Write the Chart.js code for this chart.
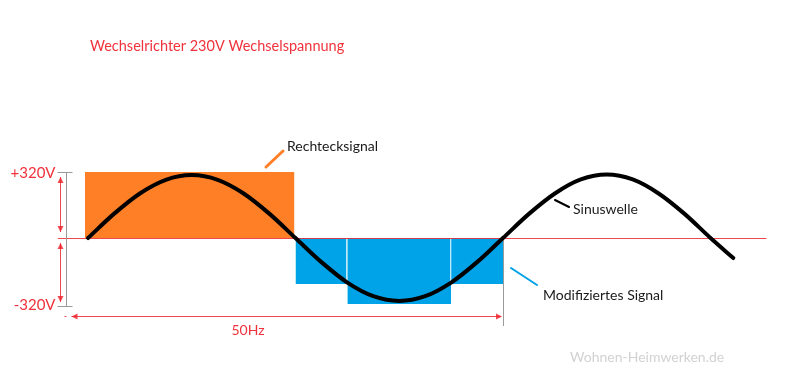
<!DOCTYPE html>
<html>
<head>
<meta charset="utf-8">
<script src="https://cdn.jsdelivr.net/npm/chart.js@4/dist/chart.umd.min.js"></script>
<style>
  html, body { margin: 0; padding: 0; background: #ffffff; }
  #wrap { width: 800px; height: 383px; position: relative; }
</style>
</head>
<body>
<div id="wrap"><canvas id="c"></canvas></div>
<script>
// ---- data ----
const titleText = 'Wechselrichter 230V Wechselspannung';
const sineTimesMs = [0, 1.25, 2.5, 3.75, 5, 6.25, 7.5, 8.75, 10, 11.25, 12.5, 13.75, 15, 16.25, 17.5, 18.75, 20, 21.25, 22.5, 23.75, 25, 26.25, 27.5, 28.75, 30, 31.1];
const sineVolts   = [0, 117, 216, 282, 305, 282, 216, 117, 0, -117, -216, -282, -305, -282, -216, -117, 0, 117, 216, 284, 308, 284, 216, 117, 0, -97];
const squareEdgesMs = [-0.15, 9.95];
const squareLevel = 320;
const modEdgesMs = [10, 12.5, 17.5, 20];
const modLevels = [-223, -320, -223];
const voltTickValues = [320, -320];
const voltTickLabels = ['+320V', '-320V'];
const periodMs = 20;
const periodLabel = '50Hz';
const seriesNames = ['Sinuswelle', 'Rechtecksignal', 'Modifiziertes Signal'];
const watermark = 'Wohnen-Heimwerken.de';

// ---- build datasets ----
const RED = 'rgba(237,40,48,0.85)';
const ORANGE = '#ff7f27';
const BLUE = '#00a2e8';
const FONT = 'Lato, "Open Sans", sans-serif';

const sinePts = sineTimesMs.map((t, i) => ({ x: t, y: sineVolts[i] }));
const squarePts = squareEdgesMs.map(t => ({ x: t, y: squareLevel }));
const datasets = [
  { label: seriesNames[0], data: sinePts, borderColor: '#000', borderWidth: 4,
    cubicInterpolationMode: 'monotone', pointRadius: 0, fill: false, borderCapStyle: 'round' },
  { label: seriesNames[1], data: squarePts, borderWidth: 0, borderColor: 'rgba(0,0,0,0)',
    backgroundColor: ORANGE, pointRadius: 0, fill: 'origin' }
];
for (let i = 0; i < modLevels.length; i++) {
  datasets.push({ label: seriesNames[2], data: [{ x: modEdgesMs[i], y: modLevels[i] }, { x: modEdgesMs[i + 1], y: modLevels[i] }],
    borderWidth: 0, borderColor: 'rgba(0,0,0,0)', backgroundColor: BLUE, pointRadius: 0, fill: 'origin' });
}

function arrowHead(ctx, x, y, dir) {
  ctx.beginPath();
  const L = 6, W = 3;
  if (dir === 'up') { ctx.moveTo(x, y); ctx.lineTo(x - W, y + L); ctx.lineTo(x + W, y + L); }
  if (dir === 'down') { ctx.moveTo(x, y); ctx.lineTo(x - W, y - L); ctx.lineTo(x + W, y - L); }
  if (dir === 'left') { ctx.moveTo(x, y); ctx.lineTo(x + L, y - W); ctx.lineTo(x + L, y + W); }
  if (dir === 'right') { ctx.moveTo(x, y); ctx.lineTo(x - L, y - W); ctx.lineTo(x - L, y + W); }
  ctx.closePath(); ctx.fill();
}
function line(ctx, x1, y1, x2, y2) { ctx.beginPath(); ctx.moveTo(x1, y1); ctx.lineTo(x2, y2); ctx.stroke(); }

const deco = {
  id: 'deco',
  afterDatasetDraw(chart, args) {
    if (args.index !== 1) return;
    const ctx = chart.ctx, xs = chart.scales.x, ys = chart.scales.y;
    const px = v => xs.getPixelForValue(v), py = v => ys.getPixelForValue(v);
    ctx.save();
    ctx.strokeStyle = 'rgba(255,255,255,0.75)'; ctx.lineWidth = 1;
    for (let i = 1; i < modEdgesMs.length - 1; i++) {
      const x = Math.round(px(modEdgesMs[i])) - 0.5;
      line(ctx, x, py(0), x, py(Math.max(modLevels[i - 1], modLevels[i])));
    }
    ctx.strokeStyle = '#9a9a9a';
    const xp = Math.round(px(periodMs)) + 0.5;
    line(ctx, xp, py(0), xp, py(-320) + 22);
    ctx.strokeStyle = RED; ctx.lineWidth = 1;
    const y0 = Math.round(py(0)) + 0.5;
    line(ctx, px(-1.45), y0, px(32.7), y0);
    ctx.restore();
  },
  afterDraw(chart) {
    const ctx = chart.ctx, xs = chart.scales.x, ys = chart.scales.y;
    const px = v => xs.getPixelForValue(v), py = v => ys.getPixelForValue(v);
    ctx.save();
    const ax = Math.round(px(-1.0)) - 0.5;
    ctx.strokeStyle = '#9a9a9a'; ctx.lineWidth = 1;
    line(ctx, ax, py(voltTickValues[0]), ax, py(voltTickValues[1]) + 2);
    voltTickValues.forEach((v, i) => {
      const y = Math.round(py(v)) + 0.5 + (i === 1 ? 2 : 0);
      line(ctx, ax - 9, y, ax + 6, y);
    });
    ctx.strokeStyle = RED; ctx.fillStyle = RED;
    const ra = ax - 6;
    const yTop = py(voltTickValues[0]), yBot = py(voltTickValues[1]), yZero = py(0);
    line(ctx, ra, yTop + 5, ra, yZero - 6); arrowHead(ctx, ra, yTop + 5, 'up'); arrowHead(ctx, ra, yZero - 6, 'down');
    line(ctx, ra, yZero + 5, ra, yBot - 2); arrowHead(ctx, ra, yZero + 5, 'up'); arrowHead(ctx, ra, yBot - 2, 'down');
    const hy = Math.round(yBot + 12) + 0.5;
    line(ctx, ax + 5, hy, px(periodMs) - 2, hy);
    arrowHead(ctx, ax + 5, hy, 'left'); arrowHead(ctx, px(periodMs) - 1, hy, 'right');
    line(ctx, ax - 2, hy, ax, hy);
    ctx.textBaseline = 'middle';
    ctx.fillStyle = 'rgb(240,50,60)';
    ctx.font = '15px ' + FONT; ctx.textAlign = 'right';
    voltTickLabels.forEach((t, i) => ctx.fillText(t, ax - 11, py(voltTickValues[i]) + 1));
    ctx.font = '14px ' + FONT; ctx.textAlign = 'center';
    ctx.fillText(periodLabel, 248, 330);
    ctx.textAlign = 'left';
    ctx.font = '14.5px ' + FONT;
    ctx.fillText(titleText, 90, 46);
    ctx.font = '14px ' + FONT;
    ctx.fillStyle = '#1a1a1a';
    ctx.fillText(seriesNames[1], 287, 146);
    ctx.fillText(seriesNames[0], 573, 209);
    ctx.fillText(seriesNames[2], 543, 295);
    ctx.lineCap = 'round';
    ctx.strokeStyle = ORANGE; ctx.lineWidth = 3; line(ctx, 266, 167, 283, 151);
    ctx.strokeStyle = '#000'; ctx.lineWidth = 2; line(ctx, 555, 200, 569, 207);
    ctx.strokeStyle = BLUE; ctx.lineWidth = 2; line(ctx, 511, 268, 537, 285);
    ctx.fillStyle = '#d2d2d2'; ctx.font = '14px ' + FONT;
    ctx.fillText(watermark, 570, 357);
    ctx.restore();
  }
};

new Chart(document.getElementById('c'), {
  type: 'line',
  data: { datasets },
  options: {
    responsive: true, maintainAspectRatio: false, animation: false, devicePixelRatio: 1,
    layout: { padding: 0 },
    scales: {
      x: { type: 'linear', min: -4.241, max: 34.313, display: false },
      y: { type: 'linear', min: -703, max: 1154, display: false }
    },
    plugins: { legend: { display: false }, tooltip: { enabled: false }, title: { display: false } }
  },
  plugins: [deco]
});
</script>
</body>
</html>
